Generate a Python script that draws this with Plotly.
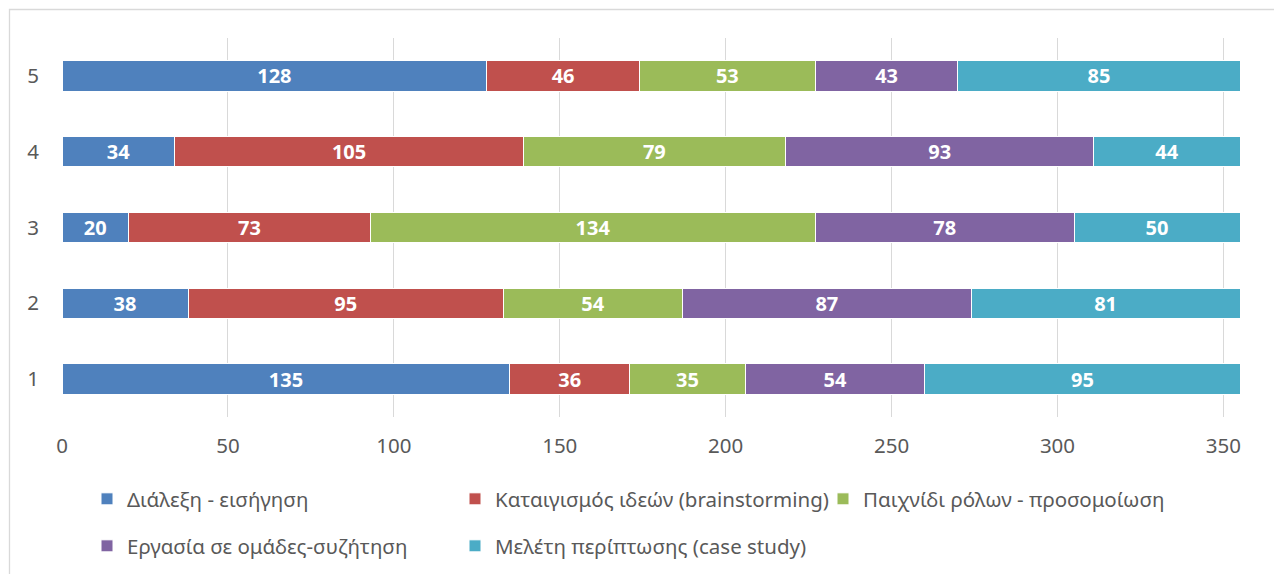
import plotly.graph_objects as go

# Categories (rows of the stacked bar chart)
categories = ["1", "2", "3", "4", "5"]

# Series: teaching methods
series_names = [
    "Διάλεξη - εισήγηση",
    "Καταιγισμός ιδεών (brainstorming)",
    "Παιχνίδι ρόλων - προσομοίωση",
    "Εργασία σε ομάδες-συζήτηση",
    "Μελέτη περίπτωσης (case study)",
]
lecture = [135, 38, 20, 34, 128]
brainstorming = [36, 95, 73, 105, 46]
role_play = [35, 54, 134, 79, 53]
group_work = [54, 87, 78, 93, 43]
case_study = [95, 81, 50, 44, 85]

x_ticks = [0, 50, 100, 150, 200, 250, 300, 350]

colors = ["#4F81BD", "#C0504D", "#9BBB59", "#8064A2", "#4BACC6"]
values = [lecture, brainstorming, role_play, group_work, case_study]
# first three entries on the top legend row, the rest on the second row
legend_rows = ["legend", "legend", "legend", "legend2", "legend2"]

FONT = "Noto Sans"
GRAY = "#595959"

fig = go.Figure()
for name, vals, col, lg in zip(series_names, values, colors, legend_rows):
    fig.add_trace(go.Bar(
        y=categories,
        x=vals,
        name=name,
        orientation="h",
        legend=lg,
        marker=dict(color=col, line=dict(color="white", width=1)),
        text=[str(v) for v in vals],
        textposition="inside",
        insidetextanchor="middle",
        textangle=0,
        textfont=dict(family=FONT, size=20, color="white", weight="bold"),
        constraintext="none",
        hoverinfo="x+name",
    ))

# plot-area geometry (pixels) used for the outer frame and legends
L, R, T, B = 62, 34, 38, 157
W, H = 1274, 574
pw, ph = W - L - R, H - T - B

def px_to_paper_x(px):
    return (px - L) / pw

def px_to_paper_y(py):
    return (H - B - py) / ph

fig.add_shape(
    type="rect", xref="paper", yref="paper",
    x0=px_to_paper_x(9.5), x1=px_to_paper_x(1290),
    y0=px_to_paper_y(590), y1=px_to_paper_y(9.5),
    line=dict(color="#D9D9D9", width=1.3), fillcolor="rgba(0,0,0,0)",
    layer="below",
)

legend_common = dict(
    orientation="h",
    traceorder="normal",
    xanchor="left",
    yanchor="middle",
    entrywidth=323, entrywidthmode="pixels",
    font=dict(family=FONT, size=20.5, color=GRAY),
    itemclick=False, itemdoubleclick=False,
    bgcolor="rgba(0,0,0,0)",
)

fig.update_layout(
    width=W, height=H,
    barmode="stack",
    bargap=0.6,
    plot_bgcolor="white",
    paper_bgcolor="white",
    margin=dict(l=L, r=R, t=T, b=B, autoexpand=False),
    font=dict(family=FONT, color=GRAY, size=20),
    xaxis=dict(
        range=[0, 355],
        tickvals=x_ticks,
        showgrid=True, gridcolor="#D9D9D9", gridwidth=1,
        zeroline=False, showline=False,
        ticks="", ticklabelstandoff=14,
        tickfont=dict(family=FONT, size=20.5, color=GRAY),
        fixedrange=True,
    ),
    yaxis=dict(
        type="category",
        showgrid=False, zeroline=False, showline=False,
        ticks="", ticklabelstandoff=22,
        tickfont=dict(family=FONT, size=20.5, color=GRAY),
        fixedrange=True,
    ),
    legend=dict(legend_common, x=px_to_paper_x(87), y=px_to_paper_y(499)),
    legend2=dict(legend_common, x=px_to_paper_x(87), y=px_to_paper_y(546)),
    showlegend=True,
)

fig.write_html("out.html")
